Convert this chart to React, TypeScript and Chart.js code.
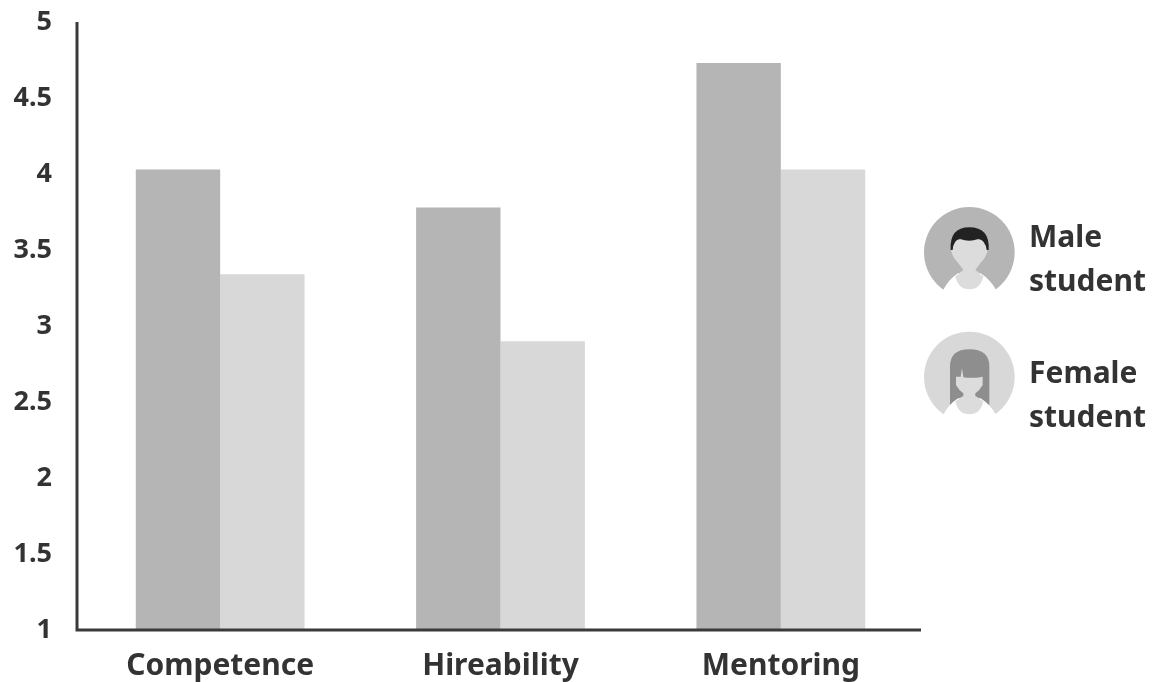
import React, { useEffect, useRef } from "react";
import { Chart, registerables } from "chart.js";

Chart.register(...registerables);

const categories = ["Competence", "Hireability", "Mentoring"];
const maleScores = [4.03, 3.78, 4.73];
const femaleScores = [3.34, 2.9, 4.03];
const seriesNames = ["Male student", "Female student"];

const FONT = "'Noto Sans', sans-serif";
const INK = "#333333";
const MALE_GREY = "#b5b5b5";
const FEMALE_GREY = "#d8d8d8";

// Draws the two heavy axis lines just outside the bar area.
const axisLines = {
  id: "axisLines",
  afterDatasetsDraw(chart: any) {
    const { ctx, chartArea } = chart;
    const x = chartArea.left - 3;
    ctx.save();
    ctx.strokeStyle = "#3a3a3a";
    ctx.lineWidth = 3;
    ctx.beginPath();
    ctx.moveTo(x, chartArea.top);
    ctx.lineTo(x, chartArea.bottom + 1.5);
    ctx.moveTo(x - 1.5, chartArea.bottom);
    ctx.lineTo(chartArea.right, chartArea.bottom);
    ctx.stroke();
    ctx.restore();
  },
};

function Body({ dy, fill }: { dy: number; fill: string }) {
  return (
    <g transform={`translate(0 ${dy})`}>
      <path d="M98,302 Q116,268 144,250 L212,250 Q240,268 260,302 L260,335 L98,335 Z" fill="#ffffff" />
      <path d="M136,258 Q178,232 220,258 Q212,298 178,298 Q144,298 136,258 Z" fill={fill} />
    </g>
  );
}

function Avatars() {
  return (
    <svg
      viewBox="0 0 729 720"
      width={243}
      height={240}
      style={{ position: "absolute", left: 910, top: 190 }}
    >
      {/* male figure */}
      <circle cx={178} cy={187} r={136} fill={MALE_GREY} />
      <Body dy={0} fill="#dcdcdc" />
      <path
        d="M124,150 L232,150 L232,185 Q226,205 212,218 L196,240 L212,252 L144,252 L160,240 L144,218 Q130,205 124,185 Z"
        fill="#dcdcdc"
      />
      <path
        d="M122,180 Q118,112 178,112 Q240,112 236,180 L230,180 Q226,150 205,146 Q178,158 150,146 Q130,150 128,180 Z"
        fill="#222222"
      />
      {/* female figure */}
      <circle cx={178} cy={561} r={136} fill={FEMALE_GREY} />
      <path d="M120,645 L120,530 Q120,478 178,478 Q238,478 238,530 L238,645 L200,625 L156,625 Z" fill="#8e8e8e" />
      <Body dy={375} fill="#dcdcdc" />
      <path
        d="M138,560 L152,560 L156,535 L160,562 Q190,566 218,560 L218,585 Q210,600 196,610 L196,618 L212,627 L144,627 L160,618 L160,610 Q146,600 138,585 Z"
        fill="#dcdcdc"
      />
    </svg>
  );
}

const legendTextStyle: React.CSSProperties = {
  position: "absolute",
  left: 1029,
  width: 124,
  fontFamily: FONT,
  fontWeight: 700,
  fontSize: 30,
  lineHeight: "44px",
  whiteSpace: "nowrap",
  color: INK,
};

export default function App() {
  const canvasRef = useRef<HTMLCanvasElement>(null);

  useEffect(() => {
    const chart = new Chart(canvasRef.current!, {
      type: "bar",
      data: {
        labels: categories,
        datasets: [
          { label: seriesNames[0], data: maleScores, backgroundColor: MALE_GREY, borderWidth: 0 },
          { label: seriesNames[1], data: femaleScores, backgroundColor: FEMALE_GREY, borderWidth: 0 },
        ],
      },
      options: {
        animation: false,
        responsive: false,
        layout: { padding: { left: 3, top: 22, right: 232, bottom: 0 } },
        datasets: { bar: { categoryPercentage: 0.602, barPercentage: 1 } },
        plugins: { legend: { display: false }, tooltip: { enabled: false } },
        scales: {
          x: {
            grid: { display: false, drawTicks: false },
            border: { display: false },
            afterFit: (scale: any) => {
              scale.height = 52;
            },
            ticks: {
              color: INK,
              padding: 18,
              maxRotation: 0,
              font: { family: FONT, weight: "bold", size: 30 },
            },
          },
          y: {
            min: 1,
            max: 5,
            grid: { display: false, drawTicks: false },
            border: { display: false },
            afterFit: (scale: any) => {
              scale.width = 77;
              scale.paddingTop = 0;
              scale.paddingBottom = 0;
            },
            ticks: {
              stepSize: 0.5,
              color: INK,
              padding: 28,
              callback: (value: any) => String(value),
              font: { family: FONT, weight: "bold", size: 27 },
            },
          },
        },
      },
      plugins: [axisLines],
    } as any);
    return () => chart.destroy();
  }, []);

  return (
    <div style={{ position: "absolute", left: 0, top: 0, width: 1153, height: 682, overflow: "hidden", background: "#fff" }}>
      <canvas ref={canvasRef} width={1153} height={682} style={{ display: "block" }} />
      <Avatars />
      <div style={{ ...legendTextStyle, top: 214 }}>Male<br />student</div>
      <div style={{ ...legendTextStyle, top: 350 }}>Female<br />student</div>
    </div>
  );
}
